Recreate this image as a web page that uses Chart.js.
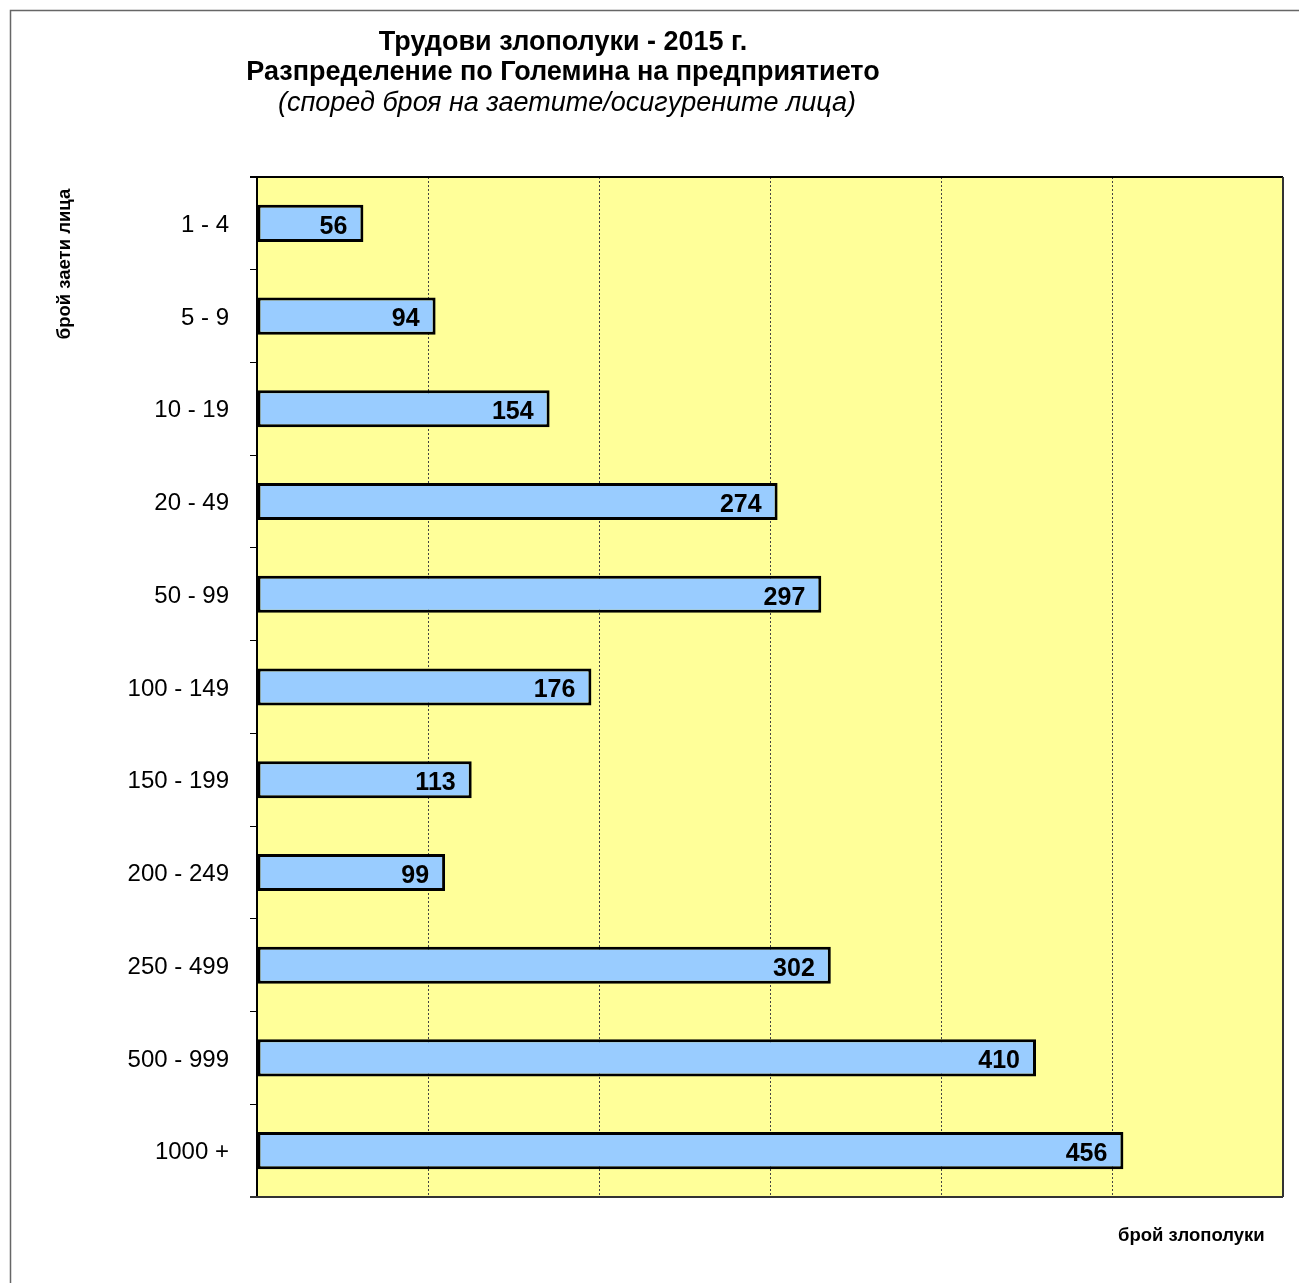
<!DOCTYPE html>
<html><head><meta charset="utf-8">
<script src="https://cdn.jsdelivr.net/npm/chart.js@4/dist/chart.umd.min.js"></script>
<style>html,body{margin:0;padding:0;background:#fff}#w{width:1299px;height:1283px}</style>
</head><body><div id="w"><canvas id="c"></canvas></div>
<script>
const categories = ["1 - 4","5 - 9","10 - 19","20 - 49","50 - 99","100 - 149","150 - 199","200 - 249","250 - 499","500 - 999","1000 +"];
const accidents = [56,94,154,274,297,176,113,99,302,410,456];
const titleLines = ["Трудови злополуки - 2015 г.","Разпределение по Големина на предприятието","(според броя на заетите/осигурените лица)"];
const yAxisTitle = "брой заети лица";
const xAxisTitle = "брой злополуки";
const FONT = "'Liberation Sans', Arial, sans-serif";

const frame = {
  id:'frame',
  beforeDraw(chart){
    const {ctx, chartArea:a} = chart;
    ctx.save();
    ctx.fillStyle='#fff'; ctx.fillRect(0,0,chart.width,chart.height);
    ctx.strokeStyle='#666'; ctx.lineWidth=1.5;
    ctx.strokeRect(10.5,10.5,1400,1400);
    ctx.fillStyle='#FFFF99';
    ctx.fillRect(a.left,a.top,a.right-a.left,a.bottom-a.top);
    ctx.restore();
  },
  afterDatasetsDraw(chart){
    const {ctx, chartArea:a} = chart;
    ctx.save();
    ctx.strokeStyle='#000'; ctx.lineWidth=2;
    ctx.beginPath(); ctx.moveTo(a.left-7,a.top); ctx.lineTo(a.right,a.top); ctx.stroke();
    ctx.beginPath(); ctx.moveTo(a.left,a.top); ctx.lineTo(a.left,a.bottom); ctx.stroke();
    ctx.strokeStyle='#333';
    ctx.beginPath(); ctx.moveTo(a.left-7,a.bottom); ctx.lineTo(a.right,a.bottom); ctx.stroke();
    ctx.beginPath(); ctx.moveTo(a.right,a.top); ctx.lineTo(a.right,a.bottom); ctx.stroke();
    // value labels
    const meta = chart.getDatasetMeta(0);
    ctx.fillStyle='#000'; ctx.font='bold 25px '+FONT;
    ctx.textAlign='right'; ctx.textBaseline='middle';
    meta.data.forEach((bar,i)=>{
      ctx.fillText(String(accidents[i]), bar.x-16, bar.y+3.5);
    });
    // titles
    ctx.textAlign='center'; ctx.textBaseline='alphabetic';
    ctx.font='bold 27px '+FONT;
    ctx.fillText(titleLines[0],563,50);
    ctx.fillText(titleLines[1],563,79.5);
    ctx.font='italic 27px '+FONT;
    ctx.fillText(titleLines[2],567,111);
    // axis titles
    ctx.textBaseline='middle';
    ctx.font='bold 18.5px '+FONT;
    ctx.textAlign='left';
    ctx.fillText(xAxisTitle,1118,1236);
    ctx.save();
    ctx.translate(65,264); ctx.rotate(-Math.PI/2);
    ctx.textAlign='center';
    ctx.fillText(yAxisTitle,0,0);
    ctx.restore();
    ctx.restore();
  }
};

new Chart(document.getElementById('c'),{
  type:'bar',
  data:{labels:categories,datasets:[{data:accidents,backgroundColor:'#99CCFF',borderColor:'#000',borderWidth:3,borderSkipped:false,categoryPercentage:1,barPercentage:0.4}]},
  options:{
    indexAxis:'y',responsive:true,maintainAspectRatio:false,animation:false,
    layout:{padding:{left:0,top:177,right:16,bottom:86}},
    plugins:{legend:{display:false},tooltip:{enabled:false},title:{display:false}},
    scales:{
      x:{min:0,max:540,ticks:{display:false,stepSize:90},border:{display:false,dash:[2,2]},
         grid:{color:'#444',lineWidth:1,drawTicks:false,tickLength:0},
         afterFit(s){s.height=0;}},
      y:{border:{display:false},
         grid:{offset:true,drawOnChartArea:false,drawTicks:true,tickLength:7,color:'#000',lineWidth:1},
         ticks:{color:'#000',font:{family:FONT,size:24},padding:21,labelOffset:2},
         afterFit(s){s.width=257;}}
    }
  },
  plugins:[frame]
});
</script></body></html>
